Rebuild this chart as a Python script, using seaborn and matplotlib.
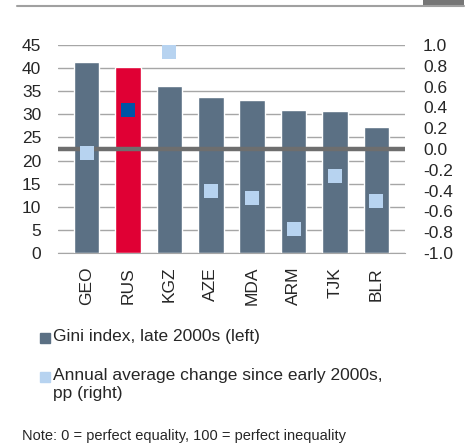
import matplotlib
matplotlib.use("Agg")
import matplotlib.pyplot as plt
from matplotlib.lines import Line2D
from matplotlib.patches import Rectangle
import pandas as pd
import seaborn as sns

# data
countries = ["GEO", "RUS", "KGZ", "AZE", "MDA", "ARM", "TJK", "BLR"]
gini_late_2000s = [41.4, 40.2, 36.1, 33.7, 33.0, 30.9, 30.8, 27.2]
annual_change_pp = [-0.04, 0.375, 0.935, -0.40, -0.47, -0.77, -0.26, -0.50]
highlight = "RUS"
right_ticks = [1.0, 0.8, 0.6, 0.4, 0.2, 0.0, -0.2, -0.4, -0.6, -0.8, -1.0]
legend_labels = ["Gini index, late 2000s (left)",
                 "Annual average change since early 2000s,\npp (right)"]
note = "Note: 0 = perfect equality, 100 = perfect inequality"

bar_grey = "#5b7084"
bar_red = "#e00034"
dot_light = "#b7d3f0"
dot_dark = "#0054a6"

df = pd.DataFrame({"country": countries, "gini": gini_late_2000s,
                   "change": annual_change_pp})
df["is_hl"] = df["country"].eq(highlight)

sns.set_style("white")
plt.rcParams["font.family"] = ["Liberation Sans", "DejaVu Sans"]

W, H = 471, 444
fig = plt.figure(figsize=(W / 100, H / 100), dpi=100)
ax = fig.add_axes([58 / W, 1 - 253 / H, 347 / W, 208 / H])

# bars (left axis)
sns.barplot(data=df, x="country", y="gini", hue="is_hl",
            palette={False: bar_grey, True: bar_red}, width=0.62,
            saturation=1, legend=False, ax=ax, zorder=2)
ax.set_ylim(0, 45)
ax.set_yticks(range(0, 46, 5))
ax.yaxis.grid(True, color="#a6a6a6", linewidth=1.0, zorder=0)
ax.set_axisbelow(True)
ax.set_xlabel("")
ax.set_ylabel("")
ax.tick_params(axis="x", labelrotation=90, labelsize=12.5, length=0, pad=10)
ax.tick_params(axis="y", labelsize=12.5, length=0, pad=12)
for s in ["top", "right", "left"]:
    ax.spines[s].set_visible(False)
ax.spines["bottom"].set_color("#a6a6a6")

# squares (right axis)
ax2 = ax.twinx()
sns.scatterplot(data=df, x="country", y="change", hue="is_hl",
                palette={False: dot_light, True: dot_dark}, marker="s",
                s=100, linewidth=0, legend=False, ax=ax2, zorder=4)
ax2.set_ylim(-1.0, 1.0)
ax2.set_yticks(right_ticks)
ax2.set_yticklabels([f"{t:.1f}" for t in right_ticks])
ax2.axhline(0, color="#6e6e6e", linewidth=3.2, zorder=3)
ax2.set_ylabel("")
ax2.tick_params(axis="y", labelsize=12.5, length=0, pad=13)
for s in ax2.spines.values():
    s.set_visible(False)
ax2.set_xlim(ax.get_xlim())

# header rule
fig.add_artist(Line2D([17 / W, 464 / W], [1 - 6.5 / H] * 2,
                      color="#a0a0a0", linewidth=1.5))
fig.add_artist(Rectangle((423 / W, 1 - 6 / H), 41 / W, 6 / H,
                         color="#767676", linewidth=0))

# legend drawn by hand so the marker sits on the first text line
for y_px, colour, label in [(338, bar_grey, legend_labels[0]),
                            (377, dot_light, legend_labels[1])]:
    fig.add_artist(Line2D([45 / W], [1 - y_px / H], marker="s",
                          linestyle="none", color=colour, markersize=7.5))
    fig.text(53 / W, 1 - (y_px - 9) / H, label, fontsize=12.5, va="top",
             linespacing=1.25)

fig.text(22 / W, 1 - 440 / H, note, fontsize=10.5, va="baseline")

fig.savefig("out.png", dpi=100)
